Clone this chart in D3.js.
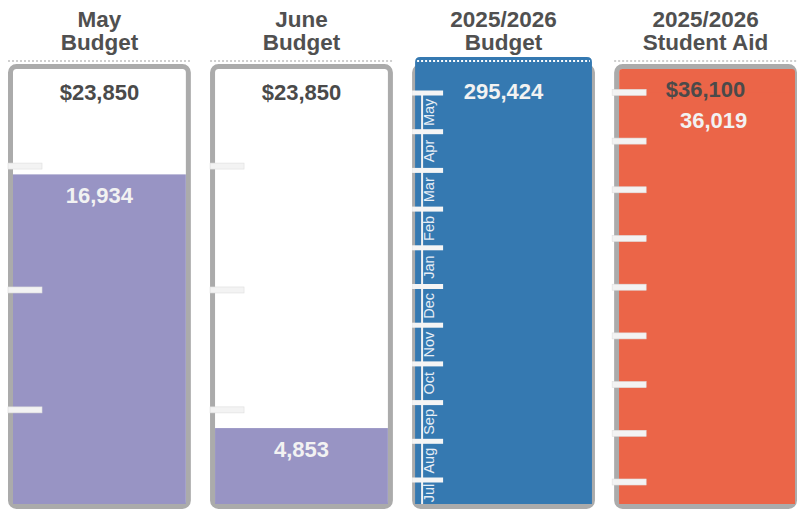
<!DOCTYPE html>
<html>
<head>
<meta charset="utf-8">
<script src="https://cdn.jsdelivr.net/npm/d3@7"></script>
<style>
  html, body { margin: 0; padding: 0; background: #ffffff; }
  svg { display: block; font-family: "Liberation Sans", Arial, sans-serif; }
</style>
</head>
<body>
<svg id="chart" width="798" height="510"></svg>
<script>
// ---------- data ----------
const panelIds     = ["may", "june", "year", "aid"];
const titleLine1   = ["May", "June", "2025/2026", "2025/2026"];
const titleLine2   = ["Budget", "Budget", "Budget", "Student Aid"];
const targetLabels = ["$23,850", "$23,850", null, "$36,100"];
const actualValues = [16934, 4853, 295424, 36019];
// value mapped to the top of each gauge's scale
const scaleMax     = [22000, 22000, 295424, 38000];
const budgetTicks  = [5720, 11430, 17330];
const aidTicks     = [4000, 8000, 12000, 16000, 20000, 24000, 28000, 32000, 36000];
const months       = ["Jul", "Aug", "Sep", "Oct", "Nov", "Dec", "Jan", "Feb", "Mar", "Apr", "May"];

// ---------- styles ----------
const fillColors  = ["#9894c4", "#9894c4", "#3579b1", "#eb6548"];
const frameBg     = ["#ffffff", "#ffffff", "#3579b1", "#eb6548"];
const frameStroke = "#ababab";
const titleColor  = "#505050";

const svg = d3.select("#chart");

const x = d3.scaleBand().domain(panelIds).range([8, 797]).paddingInner(0.095).paddingOuter(0);
const bw = x.bandwidth();

const frameTop = 64, frameBottom = 509, sw = 5;
const innerTop = frameTop + sw, innerBottom = frameBottom - sw;
const plotTop = 57;

// y scales: zero sits below the visible frame bottom (gauge clipped)
const yScales = [
  d3.scaleLinear().domain([0, scaleMax[0]]).range([530, 68]),
  d3.scaleLinear().domain([0, scaleMax[1]]).range([530, 68]),
  d3.scaleLinear().domain([0, scaleMax[2]]).range([530, plotTop]),
  d3.scaleLinear().domain([0, 36000]).range([530.7, 92.4])
];
const yMonth = d3.scaleBand().domain(months).range([518.7, 93]);

panelIds.forEach((id, i) => {
  const x0 = x(id);
  const cx = x0 + bw / 2;
  const g = svg.append("g").attr("class", "panel-" + id);
  const y = yScales[i];

  // titles
  g.append("text").attr("x", cx).attr("y", 27).attr("text-anchor", "middle")
    .attr("font-size", 22.5).attr("font-weight", "bold").attr("fill", titleColor)
    .text(titleLine1[i]);
  g.append("text").attr("x", cx).attr("y", 50).attr("text-anchor", "middle")
    .attr("font-size", 22.5).attr("font-weight", "bold").attr("fill", titleColor)
    .text(titleLine2[i]);

  // frame
  g.append("rect")
    .attr("x", x0 + sw / 2).attr("y", frameTop + sw / 2)
    .attr("width", bw - sw).attr("height", frameBottom - frameTop - sw)
    .attr("rx", 6).attr("ry", 6)
    .attr("fill", "#ffffff")
    .attr("stroke", frameStroke).attr("stroke-width", sw);

  // fill bar
  if (i === 2) {
    // overflowing bar covers the top of the frame
    const top = Math.max(plotTop, y(actualValues[i]));
    const path = d3.path();
    const xl = x0 + 3, xr = x0 + bw - 3, r = 5;
    path.moveTo(xl, innerBottom);
    path.lineTo(xl, top + r);
    path.quadraticCurveTo(xl, top, xl + r, top);
    path.lineTo(xr - r, top);
    path.quadraticCurveTo(xr, top, xr, top + r);
    path.lineTo(xr, innerBottom);
    path.closePath();
    g.append("path").attr("d", path.toString()).attr("fill", fillColors[i]);
  } else if (i === 3) {
    g.append("rect").attr("x", x0 + sw).attr("y", innerTop)
      .attr("width", bw - sw - 2).attr("height", innerBottom - innerTop)
      .attr("rx", 3).attr("fill", frameBg[i]);
    const top = Math.max(innerTop, y(actualValues[i]));
    g.append("rect").attr("x", x0 + sw).attr("y", top)
      .attr("width", bw - sw - 2).attr("height", innerBottom - top)
      .attr("fill", fillColors[i]);
  } else {
    const top = Math.max(innerTop, y(actualValues[i]));
    g.append("rect").attr("x", x0 + sw).attr("y", top)
      .attr("width", bw - 2 * sw).attr("height", innerBottom - top)
      .attr("fill", fillColors[i]);
  }

  // dotted reference line at the top
  g.append("line")
    .attr("x1", i === 2 ? x0 + 5 : x0).attr("x2", i === 2 ? x0 + bw - 5 : x0 + bw)
    .attr("y1", 61).attr("y2", 61)
    .attr("stroke", i === 2 ? "#ffffff" : "#cfcfcf")
    .attr("stroke-width", 2).attr("stroke-dasharray", "2,2");

  // ticks
  if (i === 0 || i === 1) {
    g.selectAll("rect.tick").data(budgetTicks).join("rect").attr("class", "tick")
      .attr("x", x0).attr("y", d => y(d) - 3).attr("width", 34).attr("height", 6)
      .attr("fill", "#f3f3f3").attr("stroke", "#dedede").attr("stroke-width", 0.6);
  } else if (i === 3) {
    g.selectAll("rect.tick").data(aidTicks).join("rect").attr("class", "tick")
      .attr("x", x0 - 2).attr("y", d => y(d) - 3).attr("width", 34).attr("height", 6)
      .attr("fill", "#f3f3f3").attr("stroke", "#e0e0e0").attr("stroke-width", 0.6);
  } else {
    // month axis
    g.append("line").attr("x1", x0 + 10).attr("x2", x0 + 10)
      .attr("y1", yMonth(months[months.length - 1])).attr("y2", innerBottom)
      .attr("stroke", "#f2f2f2").attr("stroke-width", 2);
    g.selectAll("rect.tick").data(months).join("rect").attr("class", "tick")
      .attr("x", x0).attr("y", d => yMonth(d) - 2.5).attr("width", 31).attr("height", 5)
      .attr("fill", "#f5f5f5");
    g.selectAll("text.month").data(months).join("text").attr("class", "month")
      .attr("transform", d => {
        const cy = Math.min(yMonth(d) + yMonth.bandwidth() / 2, innerBottom - 11);
        return `translate(${x0 + 22},${cy}) rotate(-90)`;
      })
      .attr("text-anchor", "middle").attr("font-size", 14.5).attr("fill", "#e6edf5")
      .text(d => d);
  }

  // labels
  let targetBase = null;
  if (targetLabels[i]) {
    targetBase = i === 3 ? 97 : 100;
    g.append("text").attr("x", cx).attr("y", targetBase).attr("text-anchor", "middle")
      .attr("font-size", 22).attr("font-weight", "bold").attr("fill", "#4a4a4a")
      .text(targetLabels[i]);
  }
  const barTop = Math.max(plotTop, y(actualValues[i]));
  let vBase = barTop + 29;
  vBase = Math.max(vBase, targetBase !== null ? targetBase + 31 : 99);
  g.append("text").attr("x", cx + (i === 3 ? 8 : 0)).attr("y", vBase).attr("text-anchor", "middle")
    .attr("font-size", 22).attr("font-weight", "bold").attr("fill", "#f2f2f2")
    .text(d3.format(",")(actualValues[i]));
});
</script>
</body>
</html>
